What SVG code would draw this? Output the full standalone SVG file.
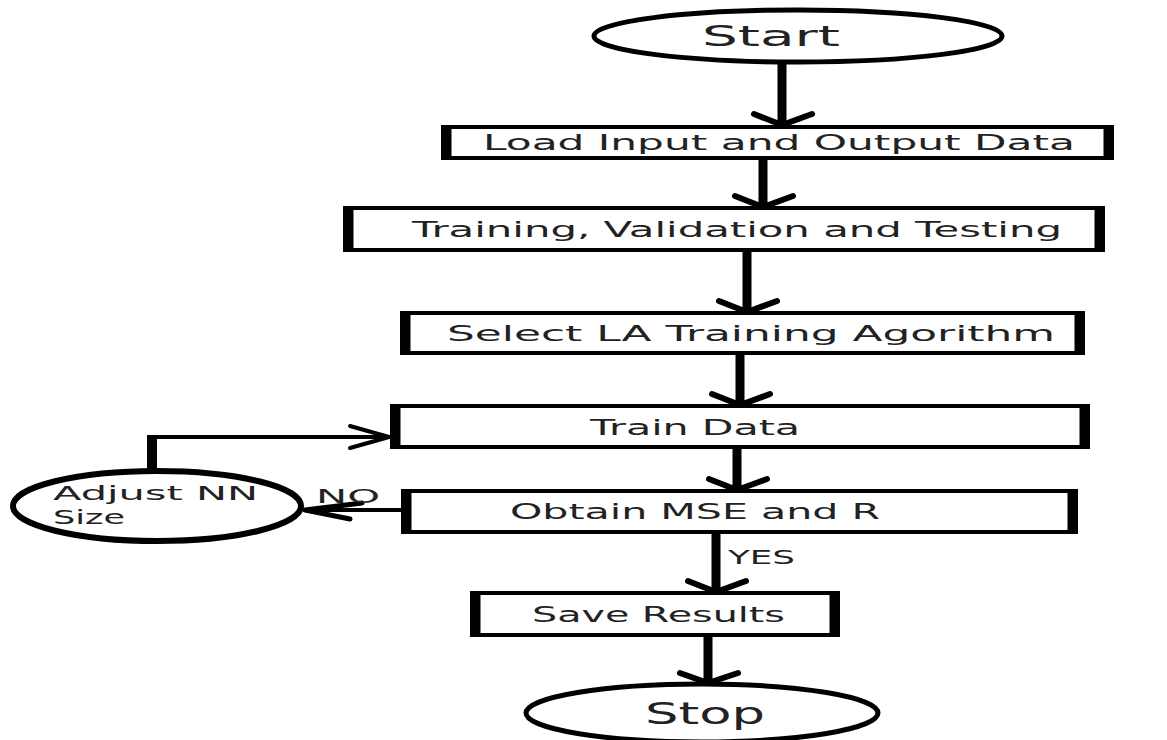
<svg xmlns="http://www.w3.org/2000/svg" width="1167" height="740" viewBox="0 0 1167 740">
<style>
  .bg{fill:#fff}
  .box{fill:#fff;stroke:#000;stroke-width:4}
  .side{stroke:#000;stroke-width:9;fill:none}
  .term{fill:#fff;stroke:#000;stroke-width:5}
  .lbl{font-family:"DejaVu Sans",Verdana,sans-serif;font-size:21px;fill:#222}
  .big{font-size:29px}
  .shaft{stroke:#000;stroke-width:9;fill:none}
  .thin{stroke:#000;stroke-width:4;fill:none}
  .head{stroke:#000;stroke-width:6;fill:none;stroke-linecap:round;stroke-linejoin:round}
</style>
<rect class="bg" x="0" y="0" width="1167" height="740"/>

<g id="connectors">
  <line class="shaft" x1="782" y1="62" x2="782" y2="126"/>
  <polyline class="head" points="754,114 782,125 812,114"/>
  <line class="shaft" x1="763" y1="158" x2="763" y2="207"/>
  <polyline class="head" points="735,196 763,207 793,196"/>
  <line class="shaft" x1="747" y1="250" x2="747" y2="312"/>
  <polyline class="head" points="719,301 747,312 777,301"/>
  <line class="shaft" x1="740" y1="353" x2="740" y2="405"/>
  <polyline class="head" points="712,394 740,405 770,394"/>
  <line class="shaft" x1="737" y1="447" x2="737" y2="490"/>
  <polyline class="head" points="709,479 737,490 767,479"/>
  <line class="shaft" x1="716" y1="532" x2="716" y2="592"/>
  <polyline class="head" points="688,581 716,592 746,581"/>
  <line class="shaft" x1="708" y1="635" x2="708" y2="683"/>
  <polyline class="head" points="680,673 708,683 738,673"/>
  <!-- loop back: Adjust NN Size -> Train Data -->
  <line x1="152" y1="472" x2="152" y2="435" stroke="#000" stroke-width="10"/>
  <polyline class="thin" points="147,437 390,437"/>
  <polyline class="head" points="350,426 389,437 350,448" style="stroke-width:4"/>
  <!-- NO branch: Obtain -> Adjust -->
  <line class="thin" x1="402" y1="510" x2="304" y2="510"/>
  <polyline class="head" points="362,503 305,510 350,519" style="stroke-width:5"/>
  <text class="lbl" x="316" y="503" textLength="64" lengthAdjust="spacingAndGlyphs" style="font-size:19px">NO</text>
  <text class="lbl" x="728" y="564" textLength="67" lengthAdjust="spacingAndGlyphs" style="font-size:19px">YES</text>
</g>

<g id="start">
  <ellipse class="term" cx="798" cy="36" rx="204" ry="26"/>
  <text class="lbl big" x="702" y="46" textLength="138" lengthAdjust="spacingAndGlyphs">Start</text>
</g>

<g id="load">
  <rect class="box" x="443" y="127" width="669" height="31"/>
  <line class="side" x1="447" y1="125" x2="447" y2="160"/>
  <line class="side" x1="1108" y1="125" x2="1108" y2="160"/>
  <text class="lbl" x="483" y="150" textLength="592" lengthAdjust="spacingAndGlyphs">Load Input and Output Data</text>
</g>

<g id="training">
  <rect class="box" x="345" y="208" width="758" height="42"/>
  <line class="side" x1="349" y1="206" x2="349" y2="252"/>
  <line class="side" x1="1099" y1="206" x2="1099" y2="252"/>
  <text class="lbl" x="412" y="237" textLength="650" lengthAdjust="spacingAndGlyphs">Training, Validation and Testing</text>
</g>

<g id="select">
  <rect class="box" x="402" y="313" width="681" height="40"/>
  <line class="side" x1="406" y1="311" x2="406" y2="355"/>
  <line class="side" x1="1079" y1="311" x2="1079" y2="355"/>
  <text class="lbl" x="447" y="341" textLength="608" lengthAdjust="spacingAndGlyphs">Select LA Training  Agorithm</text>
</g>

<g id="train-data">
  <rect class="box" x="392" y="406" width="696" height="41"/>
  <line class="side" x1="396" y1="404" x2="396" y2="449"/>
  <line class="side" x1="1084" y1="404" x2="1084" y2="449"/>
  <text class="lbl" x="590" y="435" textLength="210" lengthAdjust="spacingAndGlyphs">Train Data</text>
</g>

<g id="obtain">
  <rect class="box" x="403" y="491" width="673" height="41"/>
  <line class="side" x1="407" y1="489" x2="407" y2="534"/>
  <line class="side" x1="1072" y1="489" x2="1072" y2="534"/>
  <text class="lbl" x="510" y="519" textLength="370" lengthAdjust="spacingAndGlyphs">Obtain MSE and R</text>
</g>

<g id="save">
  <rect class="box" x="472" y="593" width="366" height="42"/>
  <line class="side" x1="476" y1="591" x2="476" y2="637"/>
  <line class="side" x1="834" y1="591" x2="834" y2="637"/>
  <text class="lbl" x="532" y="622" textLength="253" lengthAdjust="spacingAndGlyphs">Save Results</text>
</g>

<g id="stop">
  <ellipse class="term" cx="702" cy="713" rx="176" ry="29"/>
  <text class="lbl big" x="645" y="724" textLength="120" lengthAdjust="spacingAndGlyphs" style="font-size:30px">Stop</text>
</g>

<g id="adjust">
  <ellipse class="term" cx="157" cy="506" rx="144" ry="35" style="stroke-width:6"/>
  <text class="lbl" x="53" y="500" textLength="205" lengthAdjust="spacingAndGlyphs" style="font-size:19px">Adjust NN</text>
  <text class="lbl" x="53" y="524" textLength="72" lengthAdjust="spacingAndGlyphs" style="font-size:19px">Size</text>
</g>
</svg>
